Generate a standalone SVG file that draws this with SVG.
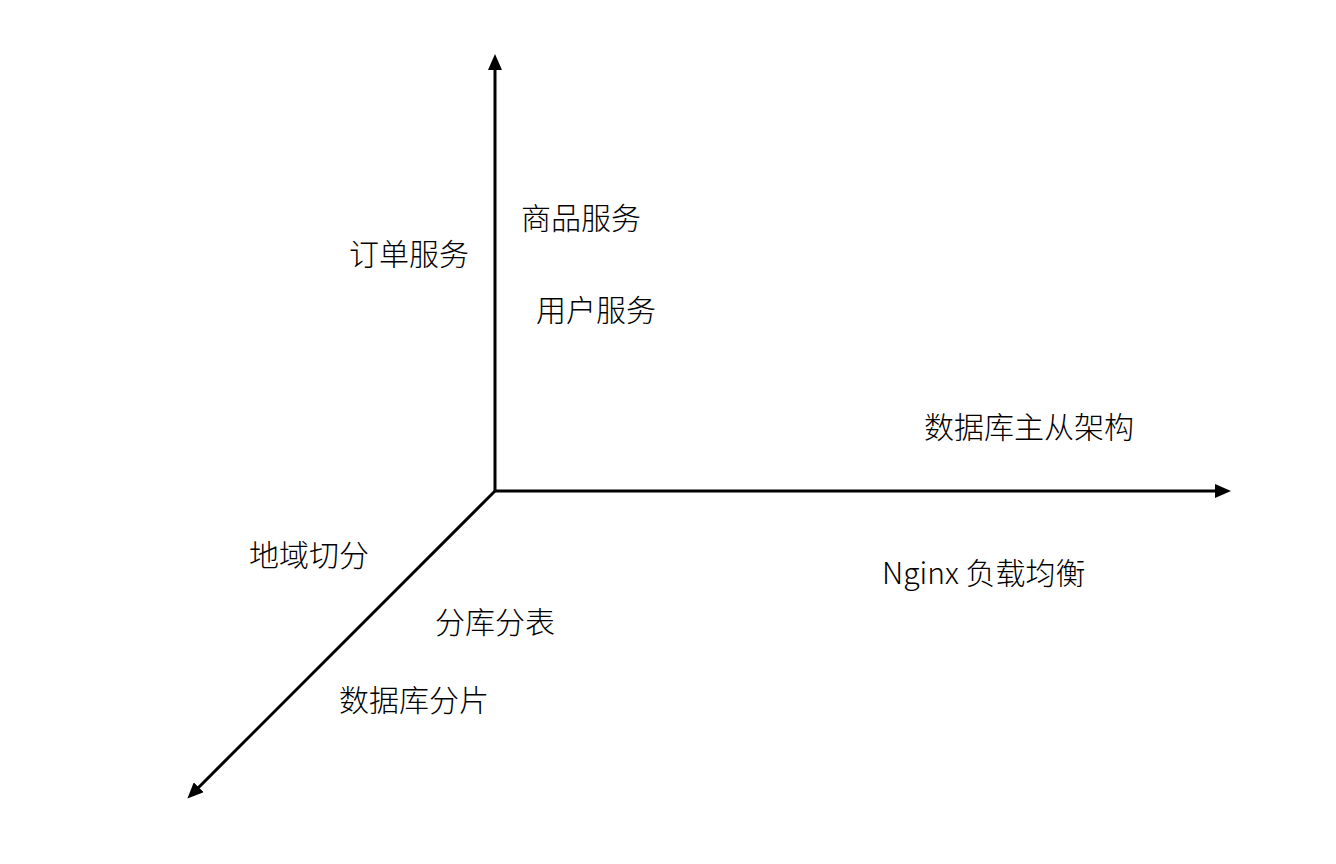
<svg xmlns="http://www.w3.org/2000/svg" width="1336" height="864" viewBox="0 0 1336 864">
<style>
.lbl{font-family:"Noto Sans CJK SC","Noto Sans",sans-serif;font-weight:300;font-size:30px;fill:#000}
.ax{stroke:#000;stroke-width:3;fill:none}
</style>
<defs>
<marker id="ah" markerUnits="userSpaceOnUse" markerWidth="16" markerHeight="14" refX="2" refY="7" orient="auto">
<path d="M0,0 L16,7 L0,14 z" fill="#000"/>
</marker>
</defs>
<rect width="1336" height="864" fill="#fff"/>
<g id="connectors">
<line class="ax" x1="495" y1="492" x2="495" y2="68" marker-end="url(#ah)"/>
<line class="ax" x1="494" y1="491" x2="1217" y2="491" marker-end="url(#ah)"/>
<line class="ax" x1="495" y1="491" x2="197.3" y2="788.7" marker-end="url(#ah)"/>
</g>
<g id="n1"><text class="lbl" x="521" y="229">商品服务</text></g>
<g id="n2"><text class="lbl" x="349" y="265">订单服务</text></g>
<g id="n3"><text class="lbl" x="536" y="321">用户服务</text></g>
<g id="n4"><text class="lbl" x="924" y="438">数据库主从架构</text></g>
<g id="n5"><text class="lbl" x="882" y="584">Nginx 负载均衡</text></g>
<g id="n6"><text class="lbl" x="249" y="566">地域切分</text></g>
<g id="n7"><text class="lbl" x="435" y="633">分库分表</text></g>
<g id="n8"><text class="lbl" x="339" y="711">数据库分片</text></g>
</svg>
